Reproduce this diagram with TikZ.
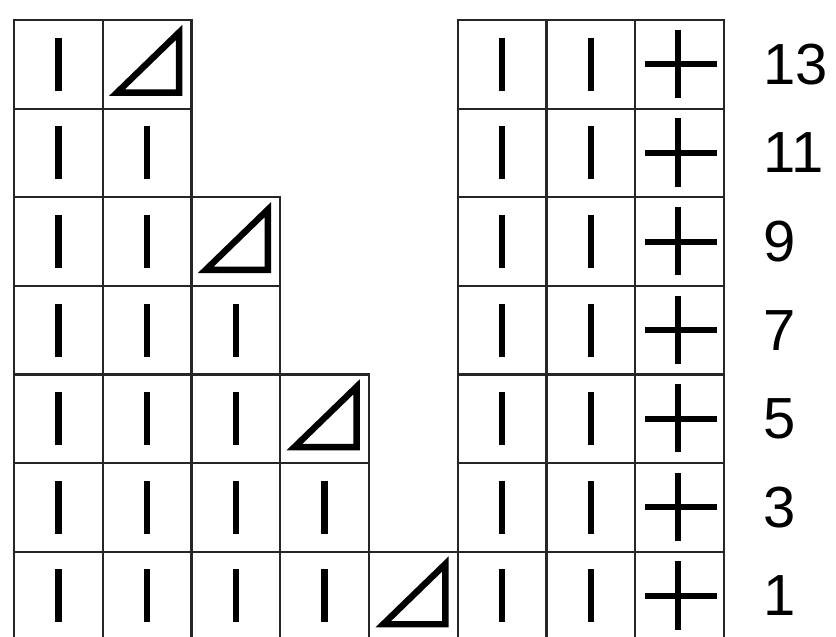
\documentclass[tikz,border=0pt]{standalone}
\usepackage{fontspec}
\setmainfont{Liberation Sans}

\begin{document}
\begin{tikzpicture}[
    x=44.375pt, y=-44.3pt,
    cell/.style={draw=black!85, line width=1.1pt},
    knit/.style={line width=3.2pt},
    decrease/.style={line width=3.2pt, line join=miter},
    purl/.style={line width=3pt},
    rowlabel/.style={anchor=west, inner sep=0pt, font=\fontsize{29}{29}\selectfont}
]

\useasboundingbox (-0.158,-0.226) rectangle (9.262,6.953);

% left block, one row at a time
\foreach \y/\n in {0/1,1/1,2/2,3/2,4/3,5/3,6/4}
    \foreach \x in {0,...,\n}
        \draw[cell] (\x,\y) rectangle ++(1,1);

% right block
\foreach \y in {0,...,6}
    \foreach \x in {5,6,7}
        \draw[cell] (\x,\y) rectangle ++(1,1);

% knit stitches, left block
\foreach \y/\n in {0/0,1/1,2/1,3/2,4/2,5/3,6/3}
    \foreach \x in {0,...,\n}
        \draw[knit] (\x+0.5,\y+0.2) -- (\x+0.5,\y+0.8);

% decreases along the edge
\foreach \x/\y in {1/0,2/2,3/4,4/6}
    \draw[decrease] (\x+0.16,\y+0.82) -- (\x+0.86,\y+0.82) -- (\x+0.86,\y+0.14) -- cycle;

% knit stitches, right block
\foreach \y in {0,...,6}
    \foreach \x in {5,6}
        \draw[knit] (\x+0.5,\y+0.2) -- (\x+0.5,\y+0.8);

% purl stitches, last column
\foreach \y in {0,...,6} {
    \draw[purl] (7.11,\y+0.5) -- (7.92,\y+0.5);
    \draw[purl] (7.48,\y+0.11) -- (7.48,\y+0.88);
}

% row numbers
\node[rowlabel] (r13) at (8.44,0.5) {13};
\node[rowlabel] (r11) at (8.44,1.5) {11};
\node[rowlabel] (r9)  at (8.44,2.5) {9};
\node[rowlabel] (r7)  at (8.44,3.5) {7};
\node[rowlabel] (r5)  at (8.44,4.5) {5};
\node[rowlabel] (r3)  at (8.44,5.5) {3};
\node[rowlabel] (r1)  at (8.44,6.5) {1};

\end{tikzpicture}
\end{document}
